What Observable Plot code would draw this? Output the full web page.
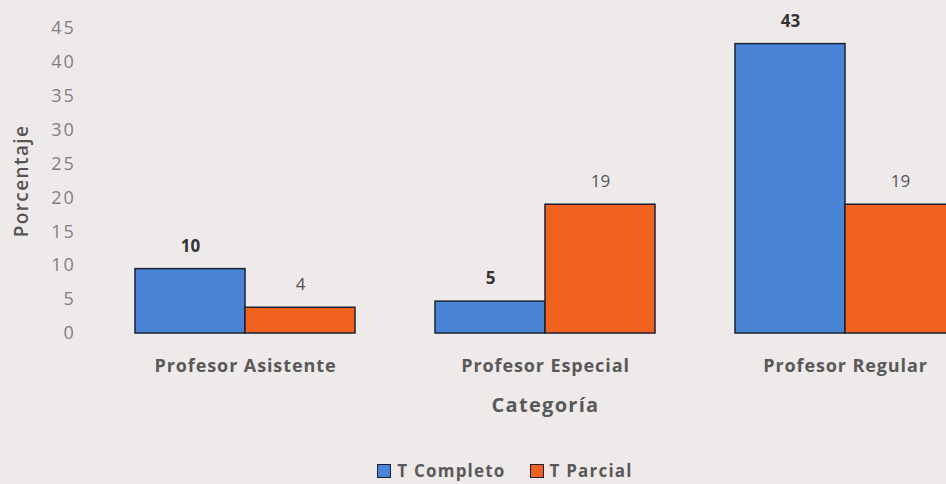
<!DOCTYPE html>
<html><head><meta charset="utf-8">
<script src="https://cdn.jsdelivr.net/npm/d3@7"></script>
<script src="https://cdn.jsdelivr.net/npm/@observablehq/plot@0.6"></script>
<style>
html,body{margin:0;padding:0;background:#efeaea;overflow:hidden;width:946px;height:484px}
#chart svg{display:block}
g[aria-label="y-axis tick label"] text{fill:#7f7f7f;letter-spacing:1.8px}
g[aria-label="y-axis label"] text{fill:#555;font-weight:600;font-size:19px;letter-spacing:1.4px}
g[aria-label="fx-axis tick label"] text{fill:#595959;font-weight:700;letter-spacing:0.9px}
g[aria-label="fx-axis label"] text{fill:#595959;font-weight:700;font-size:20px;letter-spacing:1.3px}
#legend{display:flex;justify-content:center;padding-left:64px;margin-top:22px;height:18px;line-height:18px;font-family:'Open Sans',sans-serif;font-weight:700;font-size:17px;color:#595959;letter-spacing:1.2px}
#legend .item{display:flex;align-items:center;margin:0 12px}
#legend .sw{width:12px;height:12px;border:1.5px solid #1c2030;margin-right:6px}
</style></head><body><div id="chart"></div><div id="legend"></div>
<script>
const categories = ["Profesor Asistente", "Profesor Especial", "Profesor Regular"];
const series = ["T Completo", "T Parcial"];
const completo = [9.5, 4.7, 42.7];
const parcial = [3.8, 19.0, 19.0];
const yTicks = [0, 5, 10, 15, 20, 25, 30, 35, 40, 45];
const colors = ["#4a84d6", "#f1621f"];

const data = categories.flatMap((c, i) => [
  {category: c, series: series[0], value: completo[i]},
  {category: c, series: series[1], value: parcial[i]}
]);
const fmt = d3.format(".0f");

const chart = Plot.plot({
  width: 946, height: 440,
  marginTop: 28, marginBottom: 107, marginLeft: 134, marginRight: 0,
  style: {background: "transparent", fontFamily: "'Open Sans', sans-serif", color: "#595959", overflow: "hidden"},
  fx: {domain: categories, range: [134, 956], paddingInner: 0.266, paddingOuter: 0},
  x: {domain: series, padding: 0, axis: null},
  y: {domain: [0, 45]},
  color: {domain: series, range: colors},
  marks: [
    Plot.barY(data, {fx: "category", x: "series", y: "value", fill: "series", stroke: "#1c2030", strokeWidth: 1.5}),
    Plot.text(data.filter(d => d.series === series[0]), {fx: "category", x: "series", y: "value", text: d => fmt(d.value), dy: -23, fontWeight: "bold", fill: "#333", fontSize: 17}),
    Plot.text(data.filter(d => d.series === series[1]), {fx: "category", x: "series", y: "value", text: d => fmt(d.value), dy: -23, fill: "#555", fontSize: 17}),
    Plot.axisY({ticks: yTicks, tickSize: 0, tickPadding: 60, fontSize: 18, label: "Porcentaje", labelAnchor: "center", labelOffset: 121, labelArrow: "none"}),
    Plot.axisFx({anchor: "bottom", tickSize: 0, tickPadding: 26, fontSize: 18, label: "Categoría", labelAnchor: "center", labelOffset: 78, labelArrow: "none"})
  ]
});
document.getElementById("chart").appendChild(chart);

const legend = document.getElementById("legend");
series.forEach((s, i) => {
  const item = document.createElement("div");
  item.className = "item";
  const sw = document.createElement("span");
  sw.className = "sw";
  sw.style.background = colors[i];
  const t = document.createElement("span");
  t.textContent = s;
  item.appendChild(sw); item.appendChild(t);
  legend.appendChild(item);
});
</script>
</body></html>
